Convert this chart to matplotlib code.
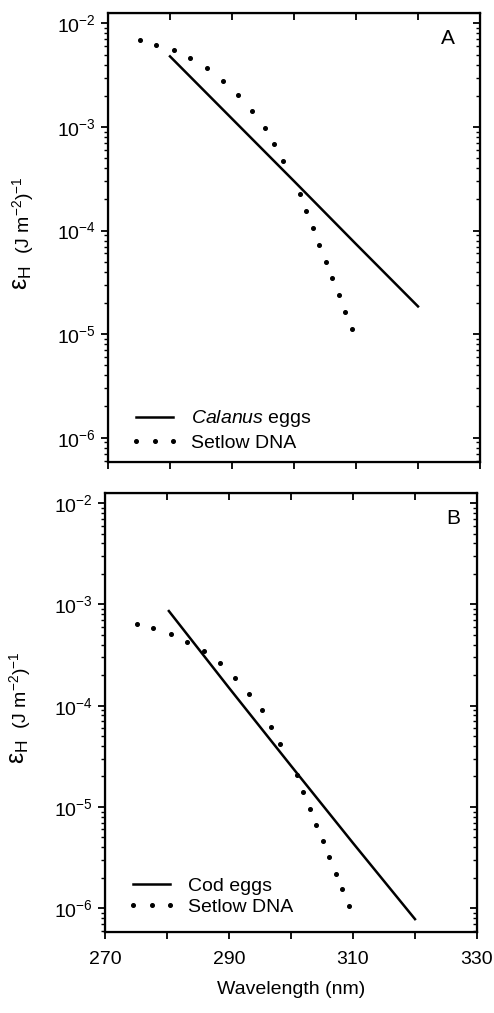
import numpy as np
import matplotlib
matplotlib.use('Agg')
import matplotlib.pyplot as plt
from matplotlib.ticker import LogLocator, NullFormatter, LogFormatterMathtext

plt.rcParams['font.family'] = 'Liberation Sans'
plt.rcParams['mathtext.fontset'] = 'custom'
plt.rcParams['mathtext.rm'] = 'Liberation Sans'
plt.rcParams['mathtext.it'] = 'Liberation Sans:italic'
plt.rcParams['mathtext.default'] = 'regular'
plt.rcParams['axes.unicode_minus'] = False

# Setlow DNA action spectrum (dots), same wavelengths in both panels
setlow_wl = [275.2, 277.8, 280.6, 283.3, 286.0, 288.5, 291.0, 293.3, 295.3, 296.8,
             298.3, 301.0, 302.0, 303.0, 304.1, 305.2, 306.2, 307.3, 308.3, 309.3]
setlow_a = [6.9e-3, 6.2e-3, 5.5e-3, 4.6e-3, 3.7e-3, 2.8e-3, 2.03e-3, 1.41e-3, 9.8e-4, 6.8e-4,
            4.7e-4, 2.23e-4, 1.54e-4, 1.05e-4, 7.2e-5, 5.0e-5, 3.46e-5, 2.41e-5, 1.64e-5, 1.12e-5]
setlow_b = [6.4e-4, 5.8e-4, 5.1e-4, 4.3e-4, 3.5e-4, 2.64e-4, 1.89e-4, 1.31e-4, 9.0e-5, 6.15e-5,
            4.2e-5, 2.05e-5, 1.41e-5, 9.6e-6, 6.7e-6, 4.6e-6, 3.2e-6, 2.2e-6, 1.53e-6, 1.06e-6]

# Calanus eggs (panel A)
calanus_wl = [280, 290, 300, 310, 320]
calanus_e = [4.8e-3, 1.2e-3, 3.0e-4, 7.4e-5, 1.85e-5]

# Cod eggs (panel B)
cod_wl = [280.3, 290, 300, 310, 320]
cod_e = [8.6e-4, 1.5e-4, 2.55e-5, 4.4e-6, 7.8e-7]

xticks = [270, 280, 290, 300, 310, 320, 330]
xticklabels = ['270', '', '290', '', '310', '', '330']

W, H = 494, 1013
fig = plt.figure(figsize=(W / 100, H / 100), dpi=100)
ax_a = fig.add_axes([108 / W, 1 - 462 / H, 372 / W, 449 / H])
ax_b = fig.add_axes([105 / W, 1 - 932 / H, 372 / W, 439 / H])


def style(ax, show_x):
    ax.set_yscale('log')
    ax.set_xlim(270, 330)
    ax.set_ylim(10 ** -6.235, 10 ** -1.9)
    for s in ax.spines.values():
        s.set_linewidth(1.6)
    ax.yaxis.set_major_locator(LogLocator(base=10, numticks=10))
    ax.yaxis.set_minor_locator(LogLocator(base=10, subs=np.arange(2, 10), numticks=10))
    ax.yaxis.set_minor_formatter(NullFormatter())
    ax.yaxis.set_major_formatter(LogFormatterMathtext())
    ax.tick_params(axis='y', which='major', direction='out', length=5, width=1.3,
                   labelsize=14, pad=4)
    ax.tick_params(axis='y', which='minor', direction='out', length=3, width=1)
    ax.set_xticks(xticks)
    ax.set_xticklabels(xticklabels if show_x else [''] * len(xticks))
    ax.tick_params(axis='x', direction='out', length=5, width=1.3, labelsize=14, pad=9)
    # right side ticks point inward
    tw = ax.twinx()
    tw.set_yscale('log')
    tw.set_ylim(ax.get_ylim())
    tw.yaxis.set_major_locator(LogLocator(base=10, numticks=10))
    tw.yaxis.set_minor_locator(LogLocator(base=10, subs=np.arange(2, 10), numticks=10))
    tw.tick_params(axis='y', which='major', direction='in', length=5, width=1.3, labelright=False)
    tw.tick_params(axis='y', which='minor', direction='in', length=3, width=1)
    # top ticks inward
    tx = ax.secondary_xaxis('top')
    tx.set_xticks(xticks)
    tx.set_xticklabels([''] * len(xticks))
    tx.tick_params(direction='in', length=5, width=1.3)
    ax.text(-0.231, 0.41, r'$\varepsilon_H$', transform=ax.transAxes, rotation=90,
            fontsize=18, ha='center', va='center')
    ax.text(-0.228, 0.55, r'(J m$^{-2}$)$^{-1}$', transform=ax.transAxes, rotation=90,
            fontsize=14, ha='center', va='center')


def add_legend(ax, ycen, spacing):
    ax.legend(loc='center left', bbox_to_anchor=(0.06, ycen), frameon=False, fontsize=14,
              handlelength=2.5, handletextpad=0.6, labelspacing=spacing, numpoints=3,
              borderaxespad=0, borderpad=0)


style(ax_a, False)
ax_a.plot(calanus_wl, calanus_e, color='black', lw=1.8, label=r'$\it{Calanus}$ eggs')
ax_a.plot(setlow_wl, setlow_a, linestyle='none', marker='o', ms=2.6, color='black',
          label='Setlow DNA')
ax_a.text(0.914, 0.944, 'A', transform=ax_a.transAxes, fontsize=15, ha='center', va='center')
add_legend(ax_a, 0.071, 0.25)

style(ax_b, True)
ax_b.plot(cod_wl, cod_e, color='black', lw=1.8, label='Cod eggs')
ax_b.plot(setlow_wl, setlow_b, linestyle='none', marker='o', ms=2.6, color='black',
          label='Setlow DNA')
ax_b.text(0.935, 0.943, 'B', transform=ax_b.transAxes, fontsize=15, ha='center', va='center')
add_legend(ax_b, 0.081, 0.15)
ax_b.set_xlabel('Wavelength (nm)', fontsize=14, labelpad=9)

fig.savefig('out.png', dpi=100)
